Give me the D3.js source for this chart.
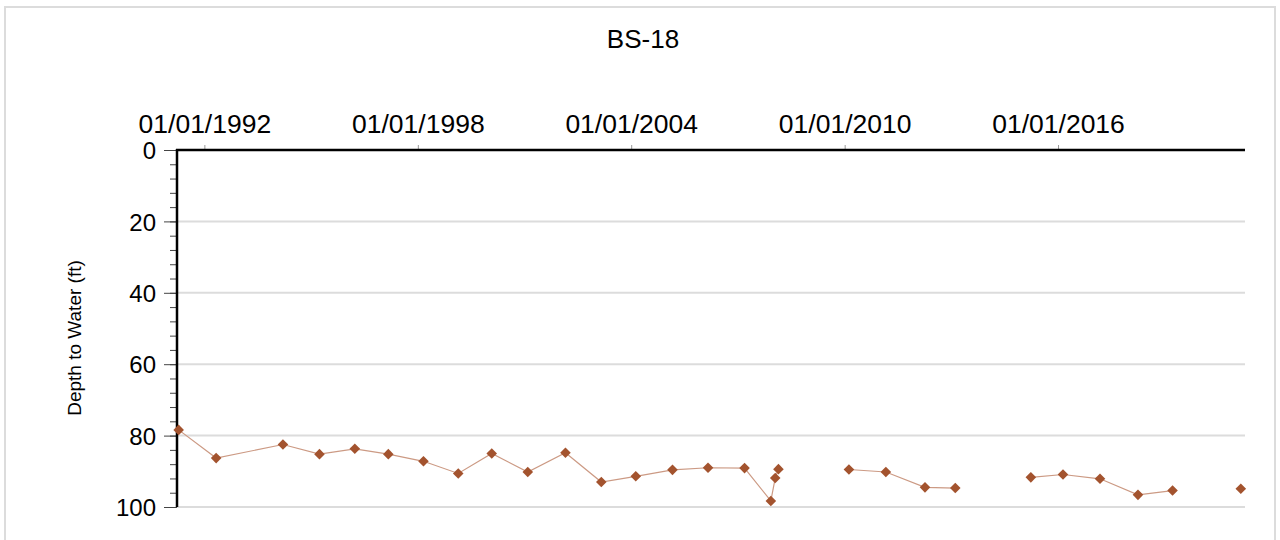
<!DOCTYPE html>
<html>
<head>
<meta charset="utf-8">
<script src="https://cdn.jsdelivr.net/npm/d3@7"></script>
<style>
  html, body { margin: 0; padding: 0; background: #fff; }
  svg { display: block; font-family: "Liberation Sans", Arial, sans-serif; }
  .grid line { stroke: #dcdcdc; stroke-width: 2; }
  .axis-line { stroke: #000; stroke-width: 2.5; }
  .tick-label { font-size: 24px; fill: #000; }
</style>
</head>
<body>
<div id="chart"></div>
<script>
const title = 'BS-18';
const yLabel = 'Depth to Water (ft)';

// sample dates and depth to water (ft)
const dates = [
  '1991-04-12', '1992-05-01', '1994-03-18', '1995-03-28', '1996-03-25', '1997-03-04',
  '1998-02-28', '1999-02-20', '2000-01-30', '2001-02-03', '2002-02-25', '2003-02-28',
  '2004-02-17', '2005-02-28', '2006-02-28', '2007-03-10', '2007-12-05', '2008-01-19',
  '2008-02-21', '2010-02-14', '2011-02-28', '2012-04-05', '2013-02-10', '2015-03-28',
  '2016-02-21', '2017-03-07', '2018-04-01', '2019-03-22', '2021-02-20'
];
const depths = [
  78.4, 86.3, 82.5, 85.2, 83.7, 85.2,
  87.2, 90.6, 85.0, 90.2, 84.8, 93.0,
  91.4, 89.6, 89.0, 89.1, 98.3, 91.9,
  89.4, 89.5, 90.2, 94.5, 94.7, 91.7,
  90.9, 92.1, 96.6, 95.4, 94.9
];
// index of points that start a new line segment (line is broken before them)
const segmentStarts = [19, 23, 28];

const xTickDates = ['1992-01-01', '1998-01-01', '2004-01-01', '2010-01-01', '2016-01-01'];
const yTicks = [0, 20, 40, 60, 80, 100];
const yMinorTicks = d3.range(0, 101, 4);
const xDomain = ['1991-03-26', '2021-04-04'];
const yDomain = [0, 100];

const width = 1280, height = 540;
const plot = { left: 177, right: 1245, top: 150, bottom: 507 };
const parse = d3.timeParse('%Y-%m-%d');
const fmt = d3.timeFormat('%m/%d/%Y');

const svg = d3.select('#chart').append('svg')
  .attr('width', width)
  .attr('height', height);

// outer frame
svg.append('rect')
  .attr('x', 5).attr('y', 7)
  .attr('width', 1270).attr('height', 545)
  .attr('fill', 'none')
  .attr('stroke', '#dcdcdc')
  .attr('stroke-width', 2);

const x = d3.scaleTime()
  .domain(xDomain.map(parse))
  .range([plot.left, plot.right]);
const y = d3.scaleLinear()
  .domain(yDomain)
  .range([plot.top, plot.bottom]);

// gridlines
svg.append('g').attr('class', 'grid')
  .selectAll('line')
  .data(yTicks.filter((d) => d > 0))
  .join('line')
  .attr('x1', plot.left).attr('x2', plot.right)
  .attr('y1', (d) => y(d)).attr('y2', (d) => y(d));

// title
svg.append('text')
  .attr('x', 643).attr('y', 48)
  .attr('text-anchor', 'middle')
  .style('font-size', '26px')
  .text(title);

// y axis title
svg.append('text')
  .attr('transform', `translate(81,338) rotate(-90)`)
  .attr('text-anchor', 'middle')
  .style('font-size', '19px')
  .text(yLabel);

// y axis: minor ticks, major ticks, labels
const yAxis = svg.append('g');
yAxis.append('g')
  .attr('transform', `translate(${plot.left},0)`)
  .call(d3.axisLeft(y).tickValues(yMinorTicks).tickSize(7).tickFormat(''))
  .call((g) => g.select('.domain').remove())
  .call((g) => g.selectAll('line').attr('stroke', '#444'));
yAxis.append('g')
  .attr('transform', `translate(${plot.left},0)`)
  .call(d3.axisLeft(y).tickValues(yTicks).tickSize(13).tickPadding(8))
  .call((g) => g.select('.domain').remove())
  .call((g) => g.selectAll('line').attr('stroke', '#444'))
  .call((g) => g.selectAll('text')
    .attr('class', 'tick-label')
    .attr('font-family', null).attr('font-size', null).attr('dy', '0.36em'));

// x axis on top
svg.append('g')
  .attr('transform', `translate(0,${plot.top})`)
  .call(d3.axisTop(x).tickValues(xTickDates.map(parse)).tickSize(5).tickPadding(12).tickFormat(fmt))
  .call((g) => g.select('.domain').remove())
  .call((g) => g.selectAll('line').attr('stroke', '#999'))
  .call((g) => g.selectAll('text')
    .attr('class', 'tick-label')
    .attr('font-family', null).attr('font-size', null)
    .style('font-size', '26.5px'));

// axis lines
svg.append('line').attr('class', 'axis-line')
  .attr('x1', plot.left).attr('x2', plot.left)
  .attr('y1', plot.top - 1).attr('y2', plot.bottom);
svg.append('line').attr('class', 'axis-line')
  .attr('x1', plot.left - 1).attr('x2', plot.right)
  .attr('y1', plot.top).attr('y2', plot.top);

const points = dates.map((d, i) => ({ date: parse(d), depth: depths[i], seg: segmentStarts.filter((s) => s <= i).length }));
const segments = d3.groups(points, (d) => d.seg).map(([, v]) => v);

const line = d3.line()
  .x((d) => x(d.date))
  .y((d) => y(d.depth));

svg.append('g')
  .selectAll('path')
  .data(segments.filter((s) => s.length > 1))
  .join('path')
  .attr('d', line)
  .attr('fill', 'none')
  .attr('stroke', '#cc9a84')
  .attr('stroke-width', 1.2);

svg.append('g')
  .selectAll('path')
  .data(points)
  .join('path')
  .attr('d', d3.symbol(d3.symbolSquare, 56))
  .attr('transform', (d) => `translate(${x(d.date)},${y(d.depth)}) rotate(45)`)
  .attr('fill', '#a3532e');
</script>
</body>
</html>
